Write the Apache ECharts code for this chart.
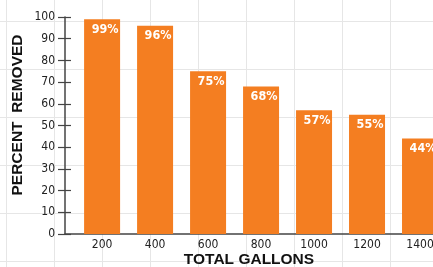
<!DOCTYPE html>
<html lang="en">
<head>
    <meta charset="UTF-8">
    <style>
    html,
    body {
        height: 100%;
        margin: 0;
        background-color: #fff;
        background-image:
            linear-gradient(to right, #e6e6e6 1px, transparent 1px),
            linear-gradient(to bottom, #e6e6e6 1px, transparent 1px);
        background-size: 48px 48px;
        background-position: 6px 21px;
    }
  </style>
</head>
<body>
<div id="chart" style="width:433px;height:267px;"></div>
<script src="https://cdn.jsdelivr.net/npm/echarts@6/dist/echarts.min.js"></script>
<script>
    var gallons = [200, 400, 600, 800, 1000, 1200, 1400];
    var removed = [99, 96, 75, 68, 57, 55, 44];
    var yTicks = [0, 10, 20, 30, 40, 50, 60, 70, 80, 90, 100];

    var narrow = "'Liberation Sans Narrow', 'DejaVu Sans Condensed', sans-serif";

    var myChart = echarts.init(document.getElementById('chart'));
    myChart.setOption({
        animation: false,
        grid: {
            left: 65,
            right: 0,
            top: 17,
            bottom: 33,
            outerBoundsMode: 'none',
            containLabel: false
        },
        xAxis: {
            type: 'value',
            min: 60,
            max: 1449,
            axisLine: { show: true, onZero: false, lineStyle: { color: '#444', width: 1.5 } },
            axisTick: { show: false },
            splitLine: { show: false },
            axisLabel: {
                customValues: gallons,
                margin: 5,
                color: '#222',
                fontSize: 12,
                fontFamily: narrow,
                formatter: function (v) { return String(v); }
            },
            name: 'TOTAL GALLONS',
            nameLocation: 'middle',
            nameGap: 18,
            nameMoveOverlap: false,
            nameTextStyle: {
                color: '#111',
                fontSize: 15.5,
                fontWeight: 'bold',
                fontFamily: "'Liberation Sans', Arial, sans-serif",
                verticalAlign: 'top'
            }
        },
        yAxis: [{
            type: 'value',
            min: 0,
            max: 100,
            interval: 10,
            axisLine: { show: true, lineStyle: { color: '#444', width: 1.5 } },
            axisTick: { show: true, length: 7, lineStyle: { color: '#444', width: 1.2 } },
            splitLine: { show: false },
            axisLabel: {
                customValues: yTicks,
                margin: 10,
                color: '#222',
                fontSize: 12,
                fontFamily: narrow
            }
        }, {
            type: 'value',
            position: 'left',
            min: 0,
            max: 100,
            interval: 10,
            axisLine: { show: false },
            axisTick: { show: true, inside: true, length: 6, lineStyle: { color: '#444', width: 1.2 } },
            splitLine: { show: false },
            axisLabel: { show: false }
        }],
        graphic: [{
            type: 'text',
            x: 18,
            y: 115,
            rotation: Math.PI / 2,
            style: {
                text: 'PERCENT  REMOVED',
                fill: '#111',
                font: 'bold 15.5px "Liberation Sans", Arial, sans-serif',
                align: 'center',
                verticalAlign: 'middle'
            }
        }],
        series: [{
            type: 'bar',
            yAxisIndex: 0,
            barWidth: 36,
            itemStyle: { color: '#f47e21' },
            data: gallons.map(function (g, i) { return [g, removed[i]]; }),
            label: {
                show: true,
                position: 'insideTop',
                distance: 4,
                offset: [3, 0],
                color: '#fff',
                fontSize: 12.5,
                fontWeight: 'bold',
                fontFamily: narrow,
                formatter: function (p) { return p.value[1] + '%'; }
            }
        }]
    });
</script>
</body>
</html>
